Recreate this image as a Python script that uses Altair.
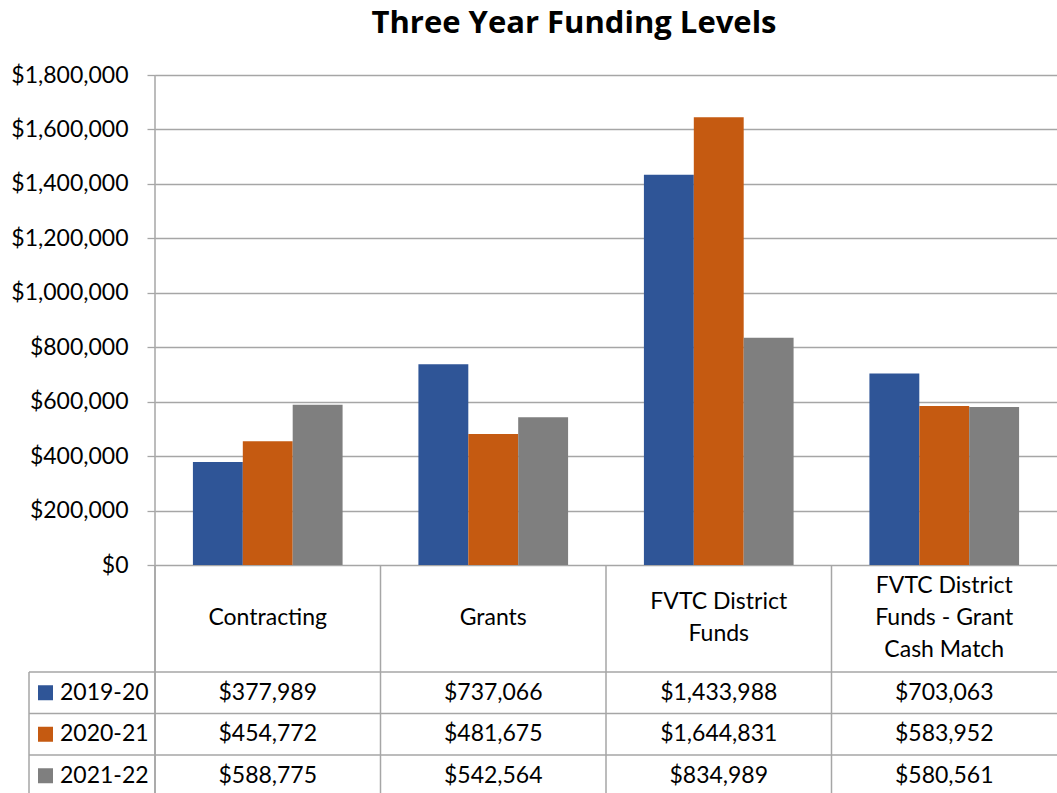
import altair as alt
import pandas as pd

categories = ["Contracting", "Grants", "FVTC District\nFunds", "FVTC District\nFunds - Grant\nCash Match"]
series = ["2019-20", "2020-21", "2021-22"]
colors = ["#2F5597", "#C55A11", "#7F7F7F"]
vals_2019 = [377989, 737066, 1433988, 703063]
vals_2020 = [454772, 481675, 1644831, 583952]
vals_2021 = [588775, 542564, 834989, 580561]
y_ticks = [0, 200000, 400000, 600000, 800000, 1000000, 1200000, 1400000, 1600000, 1800000]

rows = []
for s, vals in zip(series, [vals_2019, vals_2020, vals_2021]):
    for c, v in zip(categories, vals):
        rows.append({"category": c, "series": s, "value": v})
df = pd.DataFrame(rows)
cat_df = pd.DataFrame({"category": categories})
ser_df = pd.DataFrame({"series": series})
dummy = pd.DataFrame({"k": [0]})

FONT = "Lato"
GRID = "#a6a6a6"
W, H = 902, 490

xscale = alt.Scale(domain=categories, paddingInner=0, paddingOuter=0)
rowscale = alt.Scale(domain=series, range=[597, 721.5], paddingInner=0, paddingOuter=0)
cscale = alt.Scale(domain=series, range=colors)

bars = alt.Chart(df).mark_bar().encode(
    x=alt.X("category:N", scale=xscale, axis=None, sort=categories),
    xOffset=alt.XOffset("series:N", scale=alt.Scale(domain=series, paddingOuter=0.76, paddingInner=0)),
    y=alt.Y("value:Q", scale=alt.Scale(domain=[0, 1800000]),
            axis=alt.Axis(values=y_ticks, format="$,.0f", title=None, domain=False,
                          tickSize=8, tickColor=GRID, tickWidth=1.3,
                          gridColor=GRID, gridWidth=1.3,
                          labelFont=FONT, labelFontSize=23, labelColor="black",
                          labelPadding=19)),
    color=alt.Color("series:N", scale=cscale, legend=None),
)

axis_line = alt.Chart(dummy).mark_rule(color=GRID, strokeWidth=1.5).encode(
    x=alt.value(0), y=alt.value(0), y2=alt.value(722))

col_lines = alt.Chart(cat_df).mark_rule(color=GRID, strokeWidth=1.5).encode(
    x=alt.X("category:N", scale=xscale, axis=None, bandPosition=0, sort=categories),
    y=alt.value(H), y2=alt.value(722))

left_line = alt.Chart(dummy).mark_rule(color=GRID, strokeWidth=1.5).encode(
    x=alt.value(-126), y=alt.value(597), y2=alt.value(722))

row_lines = alt.Chart(ser_df).mark_rule(color=GRID, strokeWidth=1.5).encode(
    y=alt.Y("series:N", scale=rowscale, axis=None, bandPosition=0),
    x=alt.value(-126), x2=alt.value(W))

# header text: first-line y depends on the number of lines so the block is centred in the row
headers = alt.Chart(cat_df).transform_calculate(
    nlines="length(split(datum.category, '\\n'))"
).mark_text(font=FONT, fontSize=23, lineBreak="\n", lineHeight=32,
            baseline="middle", color="black").encode(
    x=alt.X("category:N", scale=xscale, axis=None, sort=categories),
    y=alt.Y("nlines:Q", scale=alt.Scale(domain=[1, 3], range=[543, 511]), axis=None),
    text="category:N")

cells = alt.Chart(df).mark_text(font=FONT, fontSize=23, baseline="middle", color="black").encode(
    x=alt.X("category:N", scale=xscale, axis=None, sort=categories),
    y=alt.Y("series:N", scale=rowscale, axis=None),
    text=alt.Text("value:Q", format="$,.0f"))

swatches = alt.Chart(ser_df).mark_square(size=225, opacity=1).encode(
    x=alt.value(-109.5),
    y=alt.Y("series:N", scale=rowscale, axis=None),
    color=alt.Color("series:N", scale=cscale, legend=None))

row_labels = alt.Chart(ser_df).mark_text(font=FONT, fontSize=23, align="left", baseline="middle",
                                         color="black").encode(
    x=alt.value(-95),
    y=alt.Y("series:N", scale=rowscale, axis=None),
    text="series:N")

chart = alt.layer(bars, axis_line, col_lines, left_line, row_lines, headers, cells, swatches, row_labels).resolve_scale(
    y="independent"
).properties(
    width=W, height=H,
    autosize="none",
    padding={"left": 155, "top": 75, "right": 0, "bottom": 228},
    title=alt.TitleParams("Three Year Funding Levels", font="Open Sans", fontSize=31, fontWeight="bold",
                          color="black", anchor="middle", dx=-32, dy=-20, frame="group"),
).configure_view(stroke=None)

chart.save("out.html", embed_options={"renderer": "svg", "actions": False})
